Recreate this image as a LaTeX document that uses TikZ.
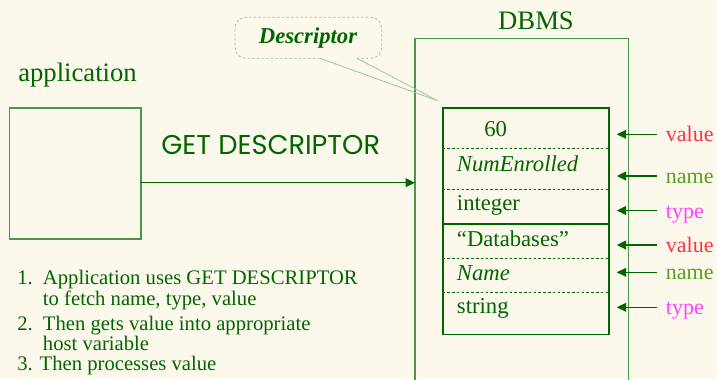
\documentclass[tikz,border=0pt]{standalone}
\usepackage{fontspec}
\setmainfont{Liberation Serif}
\newfontfamily\gothic{Poppins}
\usetikzlibrary{arrows.meta}
\definecolor{bg}{HTML}{FDF8EC}
\definecolor{dkgreen}{HTML}{006600}
\definecolor{boxgreen}{HTML}{4C964C}
\definecolor{bubblegreen}{HTML}{9CC89C}
\definecolor{valred}{HTML}{FF3344}
\definecolor{namegreen}{HTML}{5E9E1E}
\definecolor{typemag}{HTML}{FF44FF}
\tikzset{
  txt/.style={inner sep=0pt, text=dkgreen},
  cell/.style={txt, anchor=base west, font=\fontsize{17}{20}\selectfont},
  role/.style={inner sep=0pt, anchor=base west, font=\fontsize{16.5}{20}\selectfont},
  ptr/.style={draw=dkgreen, line width=1pt, -{Triangle[length=7pt,width=6.5pt]}},
  sep/.style={draw=dkgreen, line width=0.7pt, dash pattern=on 2pt off 1.6pt},
  listtxt/.style={txt, anchor=base west, font=\fontsize{15.5}{18}\selectfont},
}
\begin{document}
\begin{tikzpicture}[x=0.75pt, y=-0.75pt]
\fill[bg] (0,0) rectangle (717,379);
\useasboundingbox (0,0) rectangle (717,379);

% titles
\node[txt, anchor=base, font=\fontsize{20}{24}\selectfont] (dbmslbl) at (536,29.3) {DBMS};
\node[txt, anchor=base west, font=\fontsize{20}{24}\selectfont] (applbl) at (18,81.7) {application};

% application box
\node[draw=boxgreen, line width=1.2pt, minimum width=131.5*0.75pt, minimum height=131*0.75pt,
      inner sep=0pt, anchor=north west] (app) at (8.5,107) {};

% DBMS box, open at the bottom edge of the page
\draw[boxgreen, line width=1.1pt] (415,385) -- (415,38.3) -- (628.7,38.3) -- (628.7,385);
\coordinate (dbmsleft) at (415,182.7);

% descriptor record
\node[draw=dkgreen, line width=1pt, minimum width=166*0.75pt, minimum height=226.7*0.75pt,
      inner sep=0pt, anchor=north west] (desc) at (442.3,107.3) {};
\draw[sep] (442.3,148.3) -- (608.3,148.3);
\draw[sep] (442.3,189.3) -- (608.3,189.3);
\draw[dkgreen, line width=2pt] (442.3,224) -- (608.3,224);
\draw[sep] (442.3,258.7) -- (608.3,258.7);
\draw[sep] (442.3,292.7) -- (608.3,292.7);

\node[cell] (c1) at (484,136) {60};
\node[cell] (c2) at (456.7,171.7) {\itshape NumEnrolled};
\node[cell] (c3) at (456.7,210) {integer};
\node[cell] (c4) at (456.7,246) {``Databases''};
\node[cell] (c5) at (456.7,280) {\itshape Name};
\node[cell] (c6) at (456.7,313.5) {string};

% GET DESCRIPTOR call
\coordinate (appout) at (140,182.7);
\draw[ptr] (appout) -- (dbmsleft);
\node[txt, anchor=base west, font=\gothic\fontsize{20.4}{24}\selectfont] (getlbl) at (161,154.3) {GET DESCRIPTOR};

% field roles
\foreach \yy/\nm/\lbl/\col in {134.3/r1/value/valred, 176/r2/name/namegreen, 210.5/r3/type/typemag,
                               245/r4/value/valred, 272.3/r5/name/namegreen, 307.3/r6/type/typemag}{
  \node[role, text=\col] (\nm) at (665.7,\yy+7.5) {\lbl};
  \coordinate (\nm src) at (656.7,\yy);
  \coordinate (\nm tip) at (616.7,\yy);
  \draw[ptr] (\nm src) -- (\nm tip);
}

% callout
\draw[bubblegreen, line width=0.6pt, dash pattern=on 2pt off 1.5pt, rounded corners=8pt]
  (320,58.3) -- (235,58.3) -- (235,17.3) -- (381.7,17.3) -- (381.7,58.3) -- (357,58.3);
\coordinate (tailtip) at (438.3,101);
\draw[bubblegreen, line width=0.6pt] (320,58.3) -- (tailtip) -- (357,58.3);
\node[txt, font=\fontsize{17}{20}\selectfont\bfseries\itshape, anchor=base] (desclbl) at (308,43.3) {Descriptor};

% steps
\node[listtxt] (n1) at (17,284.3) {1.};
\node[listtxt] (l1) at (42.7,284.3) {Application uses GET DESCRIPTOR};
\node[listtxt] (l1b) at (42.7,305) {to fetch name, type, value};
\node[listtxt] (n2) at (17,330) {2.};
\node[listtxt] (l2) at (42.7,330) {Then gets value into appropriate};
\node[listtxt] (l2b) at (42.7,350) {host variable};
\node[listtxt] (l3) at (17,370.7) {3. Then processes value};
\end{tikzpicture}
\end{document}
